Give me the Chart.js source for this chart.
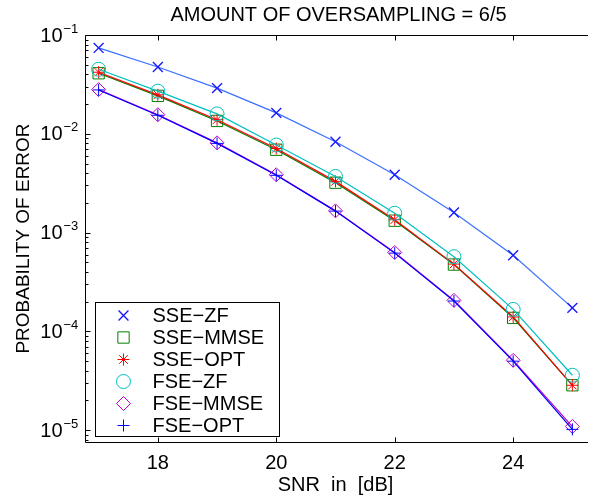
<!DOCTYPE html>
<html>
<head>
<meta charset="utf-8">
<script src="https://cdn.jsdelivr.net/npm/chart.js@4.4.1/dist/chart.umd.min.js"></script>
<style>
    html, body { margin: 0; padding: 0; background: #fff; }
    #ber-chart-container { width: 595px; height: 503px; }
</style>
</head>
<body>
<div id="ber-chart-container"><canvas id="ber-chart" width="595" height="503"></canvas></div>
<script>
// values
const snr_db = [17, 18, 19, 20, 21, 22, 23, 24, 25];
const sse_zf = [0.074, 0.0475, 0.029, 0.0163, 0.0083, 0.00385, 0.0016, 0.00059, 0.000173];
const sse_mmse = [0.041, 0.0242, 0.0135, 0.0069, 0.0032, 0.00132, 0.000475, 0.000137, 0.0000285];
const sse_opt = [0.042, 0.0248, 0.0139, 0.0071, 0.0033, 0.00135, 0.00048, 0.00014, 0.0000285];
const fse_zf = [0.045, 0.027, 0.0159, 0.0077, 0.0037, 0.00157, 0.00057, 0.000167, 0.000036];
const fse_mmse = [0.028, 0.0156, 0.0081, 0.00385, 0.00166, 0.00063, 0.000206, 0.000051, 0.0000109];
const fse_opt = [0.0278, 0.0154, 0.008, 0.0038, 0.00165, 0.00062, 0.000203, 0.00005, 0.0000102];

const series_labels = ['SSE−ZF', 'SSE−MMSE', 'SSE−OPT', 'FSE−ZF', 'FSE−MMSE', 'FSE−OPT'];
const x_ticks = [18, 20, 22, 24];
const y_ticks = [1e-5, 1e-4, 1e-3, 1e-2, 1e-1];

const chart_title = 'AMOUNT OF OVERSAMPLING = 6/5';
const x_title = 'SNR  in  [dB]';
const y_title = 'PROBABILITY OF ERROR';

const font_family = '"Liberation Sans", Arial, Helvetica, sans-serif';
Chart.defaults.font.family = font_family;
Chart.defaults.color = '#000';

const make_series = (label, values, line_color, marker_color, marker, radius, marker_width, order) => ({
    label: label,
    data: snr_db.map((s, i) => ({ x: s, y: values[i] })),
    borderColor: line_color,
    borderWidth: 1.2,
    pointStyle: marker,
    pointRadius: radius,
    pointHoverRadius: radius,
    pointBorderColor: marker_color,
    pointBackgroundColor: 'rgba(0,0,0,0)',
    pointBorderWidth: marker_width,
    tension: 0,
    fill: false,
    order: order
});

const datasets = [
    make_series(series_labels[0], sse_zf, '#3a70ff', '#1a1aff', 'crossRot', 7, 1.4, 6),
    make_series(series_labels[1], sse_mmse, '#008000', '#008000', 'rect', 8, 1, 5),
    make_series(series_labels[2], sse_opt, '#ff0000', '#ff0000', 'star', 6, 1, 4),
    make_series(series_labels[3], fse_zf, '#00bfbf', '#00bfbf', 'circle', 7, 1, 3),
    make_series(series_labels[4], fse_mmse, '#bf00bf', '#bf00bf', 'rectRot', 7, 1, 2),
    make_series(series_labels[5], fse_opt, '#0000ff', '#0000ff', 'cross', 6, 1, 1)
];

// axes box, inward ticks, y labels with exponents, title and legend, matlab style
const matlab_axes = {
    id: 'matlab_axes',
    afterDraw(chart) {
        const ctx = chart.ctx;
        const area = chart.chartArea;
        const xs = chart.scales.x;
        const ys = chart.scales.y;
        const L = Math.round(area.left) + 0.5;
        const T = Math.round(area.top) + 0.5;
        const B = Math.round(area.bottom) + 0.5;
        const R = area.right + 2;

        ctx.save();
        ctx.strokeStyle = '#000';
        ctx.lineWidth = 1;
        ctx.beginPath();
        ctx.moveTo(L, B); ctx.lineTo(L, T); ctx.lineTo(R, T);
        ctx.moveTo(L, B); ctx.lineTo(R, B);

        x_ticks.forEach(v => {
            const px = Math.round(xs.getPixelForValue(v)) + 0.5;
            ctx.moveTo(px, B); ctx.lineTo(px, B - 5);
            ctx.moveTo(px, T); ctx.lineTo(px, T + 5);
        });

        y_ticks.forEach(v => {
            const py = Math.round(ys.getPixelForValue(v)) + 0.5;
            ctx.moveTo(L, py); ctx.lineTo(L + 5, py);
        });
        for (let d = -6; d <= -1; d++) {
            for (let k = 2; k <= 9; k++) {
                const v = k * Math.pow(10, d);
                if (v < ys.min || v > ys.max) continue;
                const py = Math.round(ys.getPixelForValue(v)) + 0.5;
                ctx.moveTo(L, py); ctx.lineTo(L + 3, py);
            }
        }
        ctx.stroke();

        // y tick labels: 10 with a raised exponent
        ctx.fillStyle = '#000';
        y_ticks.forEach(v => {
            const py = ys.getPixelForValue(v);
            const exp = Math.round(Math.log10(v));
            ctx.font = '20px ' + font_family;
            ctx.textAlign = 'right';
            ctx.textBaseline = 'middle';
            ctx.fillText('10', L - 23, py + 1);
            ctx.font = '13px ' + font_family;
            ctx.textAlign = 'left';
            ctx.fillText((exp < 0 ? '−' : '') + Math.abs(exp), L - 22, py - 6);
        });

        // title
        ctx.font = '20px ' + font_family;
        ctx.textAlign = 'center';
        ctx.textBaseline = 'middle';
        ctx.fillText(chart_title, (area.left + area.right) / 2 + 3, 15);

        // legend box
        const box_l = L + 10, box_t = B - 140, box_w = 184, box_h = 134;
        ctx.fillStyle = '#fff';
        ctx.fillRect(box_l, box_t, box_w, box_h);
        ctx.strokeStyle = '#000';
        ctx.strokeRect(box_l, box_t, box_w, box_h);

        chart.data.datasets.forEach((ds, i) => {
            const my = box_t + 13 + i * 22;
            ctx.strokeStyle = ds.pointBorderColor;
            ctx.fillStyle = 'rgba(0,0,0,0)';
            ctx.lineWidth = ds.pointBorderWidth;
            Chart.helpers.drawPoint(ctx, {
                pointStyle: ds.pointStyle,
                radius: ds.pointRadius,
                rotation: 0,
                borderWidth: ds.pointBorderWidth
            }, box_l + 28, my);
            ctx.fillStyle = '#000';
            ctx.font = '20px ' + font_family;
            ctx.textAlign = 'left';
            ctx.textBaseline = 'middle';
            ctx.fillText(ds.label, box_l + 57, my + 1);
        });
        ctx.restore();
    }
};

const init_ber_chart = () => {
    const canvas = document.getElementById('ber-chart');
    new Chart(canvas, {
        type: 'line',
        data: { datasets: datasets },
        options: {
            responsive: false,
            animation: false,
            devicePixelRatio: 1,
            layout: { padding: { top: 35, right: 0, bottom: 0, left: 0 } },
            plugins: {
                legend: { display: false },
                title: { display: false },
                tooltip: { enabled: false }
            },
            scales: {
                x: {
                    type: 'linear',
                    min: 16.77,
                    max: 25.23,
                    grid: { display: false, drawTicks: false },
                    border: { display: false },
                    ticks: { font: { size: 20 }, color: '#000', padding: 9 },
                    afterBuildTicks: (scale) => { scale.ticks = x_ticks.map(v => ({ value: v })); },
                    afterFit: (scale) => { scale.height = 61; },
                    title: {
                        display: true,
                        text: x_title,
                        font: { size: 20 },
                        color: '#000',
                        padding: { top: 0, bottom: 6 }
                    }
                },
                y: {
                    type: 'logarithmic',
                    min: 7.6e-6,
                    max: 0.1,
                    grid: { display: false, drawTicks: false },
                    border: { display: false },
                    ticks: { display: false },
                    afterBuildTicks: (scale) => { scale.ticks = y_ticks.map(v => ({ value: v })); },
                    afterFit: (scale) => { scale.width = 85; },
                    title: {
                        display: true,
                        text: y_title,
                        font: { size: 19 },
                        color: '#000',
                        padding: { top: 12, bottom: 0 }
                    }
                }
            }
        },
        plugins: [matlab_axes]
    });
};

init_ber_chart();
</script>
</body>
</html>
